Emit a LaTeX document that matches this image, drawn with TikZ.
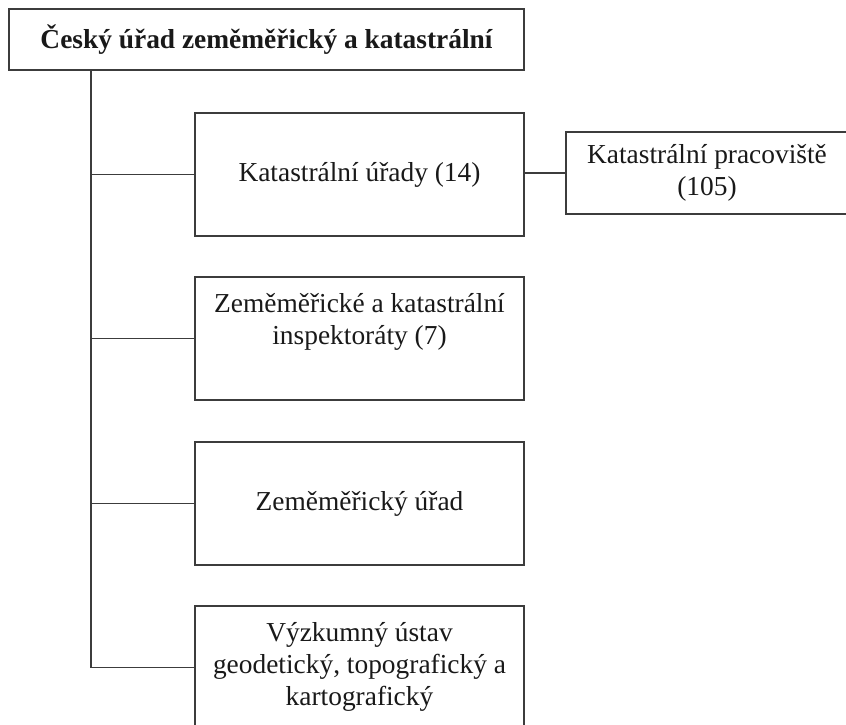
\documentclass[tikz,border=0pt]{standalone}
\usepackage{fontspec}
\setmainfont{Liberation Serif}
\begin{document}
\begin{tikzpicture}[x=1pt,y=-1pt,
  box/.style={draw=linegray,line width=1.4pt,rectangle,inner sep=0pt,fill=white},
  txt/.style={inner sep=0pt,align=center,text=black!90,font=\fontsize{27.4}{32}\selectfont},
  conn/.style={draw=linegray,line width=1.4pt}]
\definecolor{linegray}{HTML}{3C3C3C}
\useasboundingbox (0,0) rectangle (846,725);
\fill[white] (0,0) rectangle (846,725);
% top box
\node[box,minimum width=515pt,minimum height=61pt] (top) at (266.5,39.5) {};
\node[txt,font=\fontsize{27.4}{32}\selectfont\bfseries] (toptxt) at (top.center) {Český úřad zeměměřický a katastrální};
% boxes
\node[box,minimum width=329pt,minimum height=123pt] (b1) at (359.5,174.5) {};
\node[txt] (b1txt) at (b1.center) {Katastrální úřady (14)};
\node[box,minimum width=329pt,minimum height=123pt] (b2) at (359.5,338.5) {};
\node[txt,anchor=north] (b2txt) at (359.5,293) {Zeměměřické a katastrální\\inspektoráty (7)};
\node[box,minimum width=329pt,minimum height=123pt] (b3) at (359.5,503.5) {};
\node[txt] (b3txt) at (b3.center) {Zeměměřický úřad};
\node[box,minimum width=329pt,minimum height=123pt] (b4) at (359.5,667.5) {};
\node[txt,anchor=north] (b4txt) at (359.5,622) {Výzkumný ústav\\geodetický, topografický a\\kartografický};
% right box
\node[box,minimum width=282pt,minimum height=82pt] (r) at (707,173) {};
\node[txt] (rtxt) at (r.center) {Katastrální pracoviště\\(105)};
% connectors
\coordinate (trunk) at (91,0);
\draw[conn] (top.south -| trunk) -- (b4.west -| trunk) -- (b4.west);
\draw[conn] (b1.west -| trunk) -- (b1.west);
\draw[conn] (b2.west -| trunk) -- (b2.west);
\draw[conn] (b3.west -| trunk) -- (b3.west);
\draw[conn] (b1.east |- r.west) -- (r.west);
\end{tikzpicture}
\end{document}
